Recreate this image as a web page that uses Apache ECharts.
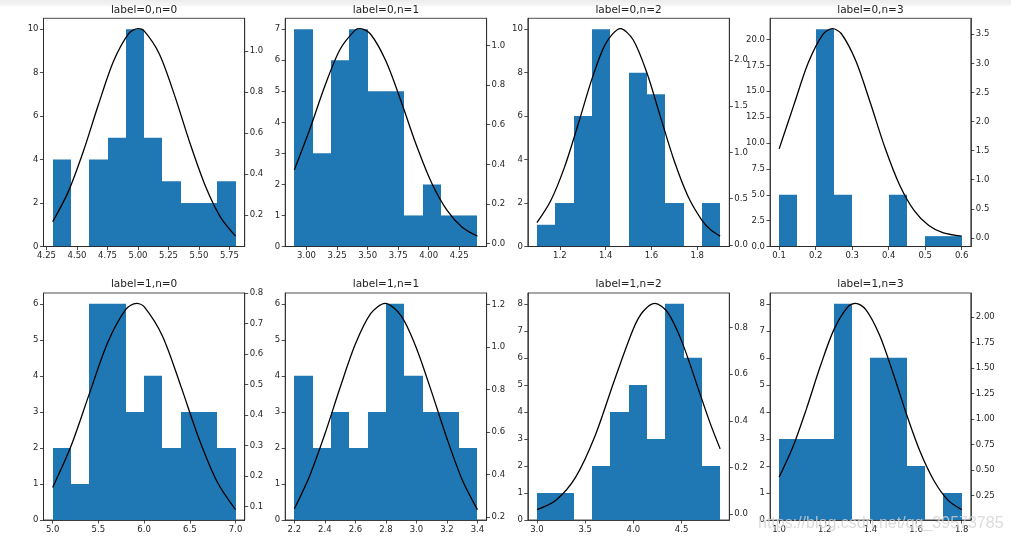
<!DOCTYPE html>
<html><head><meta charset="utf-8">
<script src="https://cdn.jsdelivr.net/npm/echarts@6/dist/echarts.min.js"></script>
<style>html,body{margin:0;padding:0;background:#fff}#c{width:1011px;height:543px}</style>
</head><body><div id="c"></div><script>
// ---- data ----
const titles = ['label=0,n=0','label=0,n=1','label=0,n=2','label=0,n=3','label=1,n=0','label=1,n=1','label=1,n=2','label=1,n=3'];
const binLo = [4.3, 2.9, 1.1, 0.1, 5.0, 2.2, 3.0, 1.0];
const binHi = [5.8, 4.4, 1.9, 0.6, 7.0, 3.4, 4.9, 1.8];

const counts00 = [4, 0, 4, 5, 10, 5, 3, 2, 2, 3];
const counts01 = [7, 3, 6, 7, 5, 5, 1, 2, 1, 1];
const counts02 = [1, 2, 6, 10, 0, 8, 7, 2, 0, 2];
const counts03 = [5, 0, 21, 5, 0, 0, 5, 0, 1, 1];
const counts10 = [2, 1, 6, 6, 3, 4, 2, 3, 3, 2];
const counts11 = [4, 2, 3, 2, 3, 6, 4, 3, 3, 2];
const counts12 = [1, 1, 0, 2, 4, 5, 3, 8, 6, 2];
const counts13 = [3, 3, 3, 8, 0, 6, 6, 2, 0, 1];

const curve00 = [[4.3,0.167],[4.425,0.309],[4.55,0.507],[4.675,0.737],[4.8,0.950],[4.925,1.085],[5.0,1.108],[5.05,1.097],[5.175,0.985],[5.3,0.783],[5.425,0.552],[5.55,0.345],[5.675,0.191],[5.8,0.097]];
const curve01 = [[2.9,0.372],[3.025,0.574],[3.15,0.795],[3.275,0.980],[3.4,1.078],[3.44,1.084],[3.525,1.056],[3.65,0.921],[3.775,0.717],[3.9,0.496],[4.025,0.306],[4.15,0.169],[4.275,0.083],[4.4,0.038]];
const curve02 = [[1.1,0.240],[1.16,0.477],[1.22,0.838],[1.28,1.304],[1.34,1.791],[1.40,2.175],[1.4645,2.336],[1.52,2.216],[1.58,1.859],[1.64,1.378],[1.70,0.903],[1.76,0.523],[1.82,0.268],[1.86,0.160],[1.9,0.095]];
const curve03 = [[0.1,1.53],[0.14,2.277],[0.18,3.013],[0.22,3.499],[0.246,3.596],[0.27,3.513],[0.31,3.044],[0.35,2.317],[0.39,1.548],[0.43,0.908],[0.47,0.467],[0.51,0.211],[0.55,0.084],[0.6,0.03]];
const curve10 = [[5.0,0.163],[5.2,0.298],[5.4,0.469],[5.6,0.637],[5.8,0.747],[5.916,0.767],[6.0,0.756],[6.2,0.660],[6.4,0.497],[6.6,0.323],[6.8,0.181],[7.0,0.090]];
const curve11 = [[2.2,0.239],[2.3,0.394],[2.4,0.591],[2.5,0.810],[2.6,1.014],[2.7,1.157],[2.795,1.206],[2.9,1.147],[3.0,0.995],[3.1,0.788],[3.2,0.570],[3.3,0.376],[3.4,0.235]];
const curve12 = [[3.0,0.0193],[3.2,0.0613],[3.4,0.158],[3.6,0.333],[3.8,0.570],[4.0,0.795],[4.1,0.869],[4.224,0.904],[4.35,0.868],[4.5,0.743],[4.7,0.505],[4.8,0.386],[4.9,0.280]];
const curve13 = [[1.0,0.429],[1.06,0.724],[1.12,1.101],[1.18,1.513],[1.24,1.875],[1.30,2.096],[1.335,2.133],[1.38,2.072],[1.44,1.822],[1.50,1.445],[1.56,1.034],[1.62,0.668],[1.68,0.389],[1.74,0.204],[1.8,0.11]];

const xTicks00 = [4.25,4.5,4.75,5.0,5.25,5.5,5.75];
const xTicks01 = [3.0,3.25,3.5,3.75,4.0,4.25];
const xTicks02 = [1.2,1.4,1.6,1.8];
const xTicks03 = [0.1,0.2,0.3,0.4,0.5,0.6];
const xTicks10 = [5.0,5.5,6.0,6.5,7.0];
const xTicks11 = [2.2,2.4,2.6,2.8,3.0,3.2,3.4];
const xTicks12 = [3.0,3.5,4.0,4.5];
const xTicks13 = [1.0,1.2,1.4,1.6,1.8];

const countTicks00 = [0,2,4,6,8,10];
const countTicks01 = [0,1,2,3,4,5,6,7];
const countTicks02 = [0,2,4,6,8,10];
const countTicks03 = [0,2.5,5,7.5,10,12.5,15,17.5,20];
const countTicks10 = [0,1,2,3,4,5,6];
const countTicks11 = [0,1,2,3,4,5,6];
const countTicks12 = [0,1,2,3,4,5,6,7,8];
const countTicks13 = [0,1,2,3,4,5,6,7,8];

const densTicks00 = [0.2,0.4,0.6,0.8,1.0];
const densTicks01 = [0,0.2,0.4,0.6,0.8,1.0];
const densTicks02 = [0,0.5,1.0,1.5,2.0];
const densTicks03 = [0,0.5,1.0,1.5,2.0,2.5,3.0,3.5];
const densTicks10 = [0.1,0.2,0.3,0.4,0.5,0.6,0.7,0.8];
const densTicks11 = [0.2,0.4,0.6,0.8,1.0,1.2];
const densTicks12 = [0,0.2,0.4,0.6,0.8];
const densTicks13 = [0.25,0.5,0.75,1.0,1.25,1.5,1.75,2.0];

// ---- assembly ----
const countsAll = [counts00,counts01,counts02,counts03,counts10,counts11,counts12,counts13];
const curvesAll = [curve00,curve01,curve02,curve03,curve10,curve11,curve12,curve13];
const xTicksAll = [xTicks00,xTicks01,xTicks02,xTicks03,xTicks10,xTicks11,xTicks12,xTicks13];
const cTicksAll = [countTicks00,countTicks01,countTicks02,countTicks03,countTicks10,countTicks11,countTicks12,countTicks13];
const dTicksAll = [densTicks00,densTicks01,densTicks02,densTicks03,densTicks10,densTicks11,densTicks12,densTicks13];
const xDec = [2,2,1,1,1,1,1,1];
const cDec = [0,0,0,1,0,0,0,0];
const dDec = [1,1,1,1,1,1,1,2];

const colLeft = [43.5, 285.2, 527.8, 770];
const colW = [201.2, 201.4, 201.5, 200.8];
const rowTop = [18.3, 293];
const rowH = [228.2, 227];
const titleY = [10, 284];

const FONT = 'DejaVu Sans';
const TXT = '#262626';
const LINE = '#222';
const BAR = '#1f77b4';

function axisStyle(ticks, dec, margin) {
  return {
    splitLine: {show: false},
    axisLine: {show: true, onZero: false, lineStyle: {color: LINE, width: 0.8}},
    axisTick: {show: true, inside: false, length: 3.5, customValues: ticks, lineStyle: {color: LINE, width: 0.8}},
    axisLabel: {customValues: ticks, formatter: v => Number(v).toFixed(dec), fontSize: 8.5, color: TXT, fontFamily: FONT, margin: margin},
    z: 10
  };
}

function renderBar(params, api) {
  const p0 = api.coord([api.value(0), api.value(2)]);
  const p1 = api.coord([api.value(1), 0]);
  const x0 = Math.round(p0[0]), x1 = Math.round(p1[0]);
  return {type: 'rect', shape: {x: x0, y: p0[1], width: x1 - x0, height: p1[1] - p0[1]},
          style: {fill: BAR}};
}

const grids = [], xAxes = [], yAxes = [], series = [], graphics = [];
for (let i = 0; i < 8; i++) {
  const r = Math.floor(i / 4), c = i % 4;
  grids.push({left: colLeft[c], top: rowTop[r], width: colW[c], height: rowH[r], show: true,
              borderColor: LINE, borderWidth: 0.8, backgroundColor: 'transparent'});
  const lo = binLo[i], hi = binHi[i], span = hi - lo;
  xAxes.push(Object.assign({type: 'value', gridIndex: i, min: lo - 0.05 * span, max: hi + 0.05 * span}, axisStyle(xTicksAll[i], xDec[i], 5)));
  const counts = countsAll[i];
  yAxes.push(Object.assign({type: 'value', gridIndex: i, position: 'left', min: 0, max: Math.max(...counts) * 1.05}, axisStyle(cTicksAll[i], cDec[i], 5)));
  const ys = curvesAll[i].map(d => d[1]);
  const ymin = Math.min(...ys), ymax = Math.max(...ys), m = 0.05 * (ymax - ymin);
  yAxes.push(Object.assign({type: 'value', gridIndex: i, position: 'right', min: ymin - m, max: ymax + m}, axisStyle(dTicksAll[i], dDec[i], 5)));
  const bw = span / counts.length;
  const bars = counts.map((n, k) => [lo + k * bw, lo + (k + 1) * bw, n]).filter(d => d[2] > 0);
  series.push({type: 'custom', xAxisIndex: i, yAxisIndex: 2 * i, data: bars, encode: {x: [0, 1], y: 2},
               renderItem: renderBar, z: 1, silent: true});
  series.push({type: 'line', xAxisIndex: i, yAxisIndex: 2 * i + 1, data: curvesAll[i], smooth: 0.3,
               showSymbol: false, symbol: 'none', lineStyle: {color: '#000', width: 1.3}, z: 3, silent: true});
  graphics.push({type: 'text', x: colLeft[c] + colW[c] / 2, y: titleY[r], z: 50,
                 style: {text: titles[i], fontSize: 10.5, fontFamily: FONT, fill: '#222', align: 'center', verticalAlign: 'middle'}});
}
graphics.push({type: 'rect', shape: {x: 0, y: 0, width: 1011, height: 6}, z: 40,
               style: {fill: new echarts.graphic.LinearGradient(0, 0, 0, 1, [{offset: 0, color: '#ececec'}, {offset: 1, color: '#f7f7f7'}])}});
graphics.push({type: 'text', x: 758, y: 524, z: 100,
               style: {text: 'https://blog.csdn.net/qq_39573785', fontSize: 16, fontFamily: 'Liberation Sans',
                       fill: 'rgba(210,210,210,0.8)', align: 'left', verticalAlign: 'middle'}});

const chart = echarts.init(document.getElementById('c'), null, {renderer: 'canvas'});
chart.setOption({animation: false, backgroundColor: '#fff', grid: grids, xAxis: xAxes, yAxis: yAxes, series: series, graphic: graphics});
</script></body></html>
